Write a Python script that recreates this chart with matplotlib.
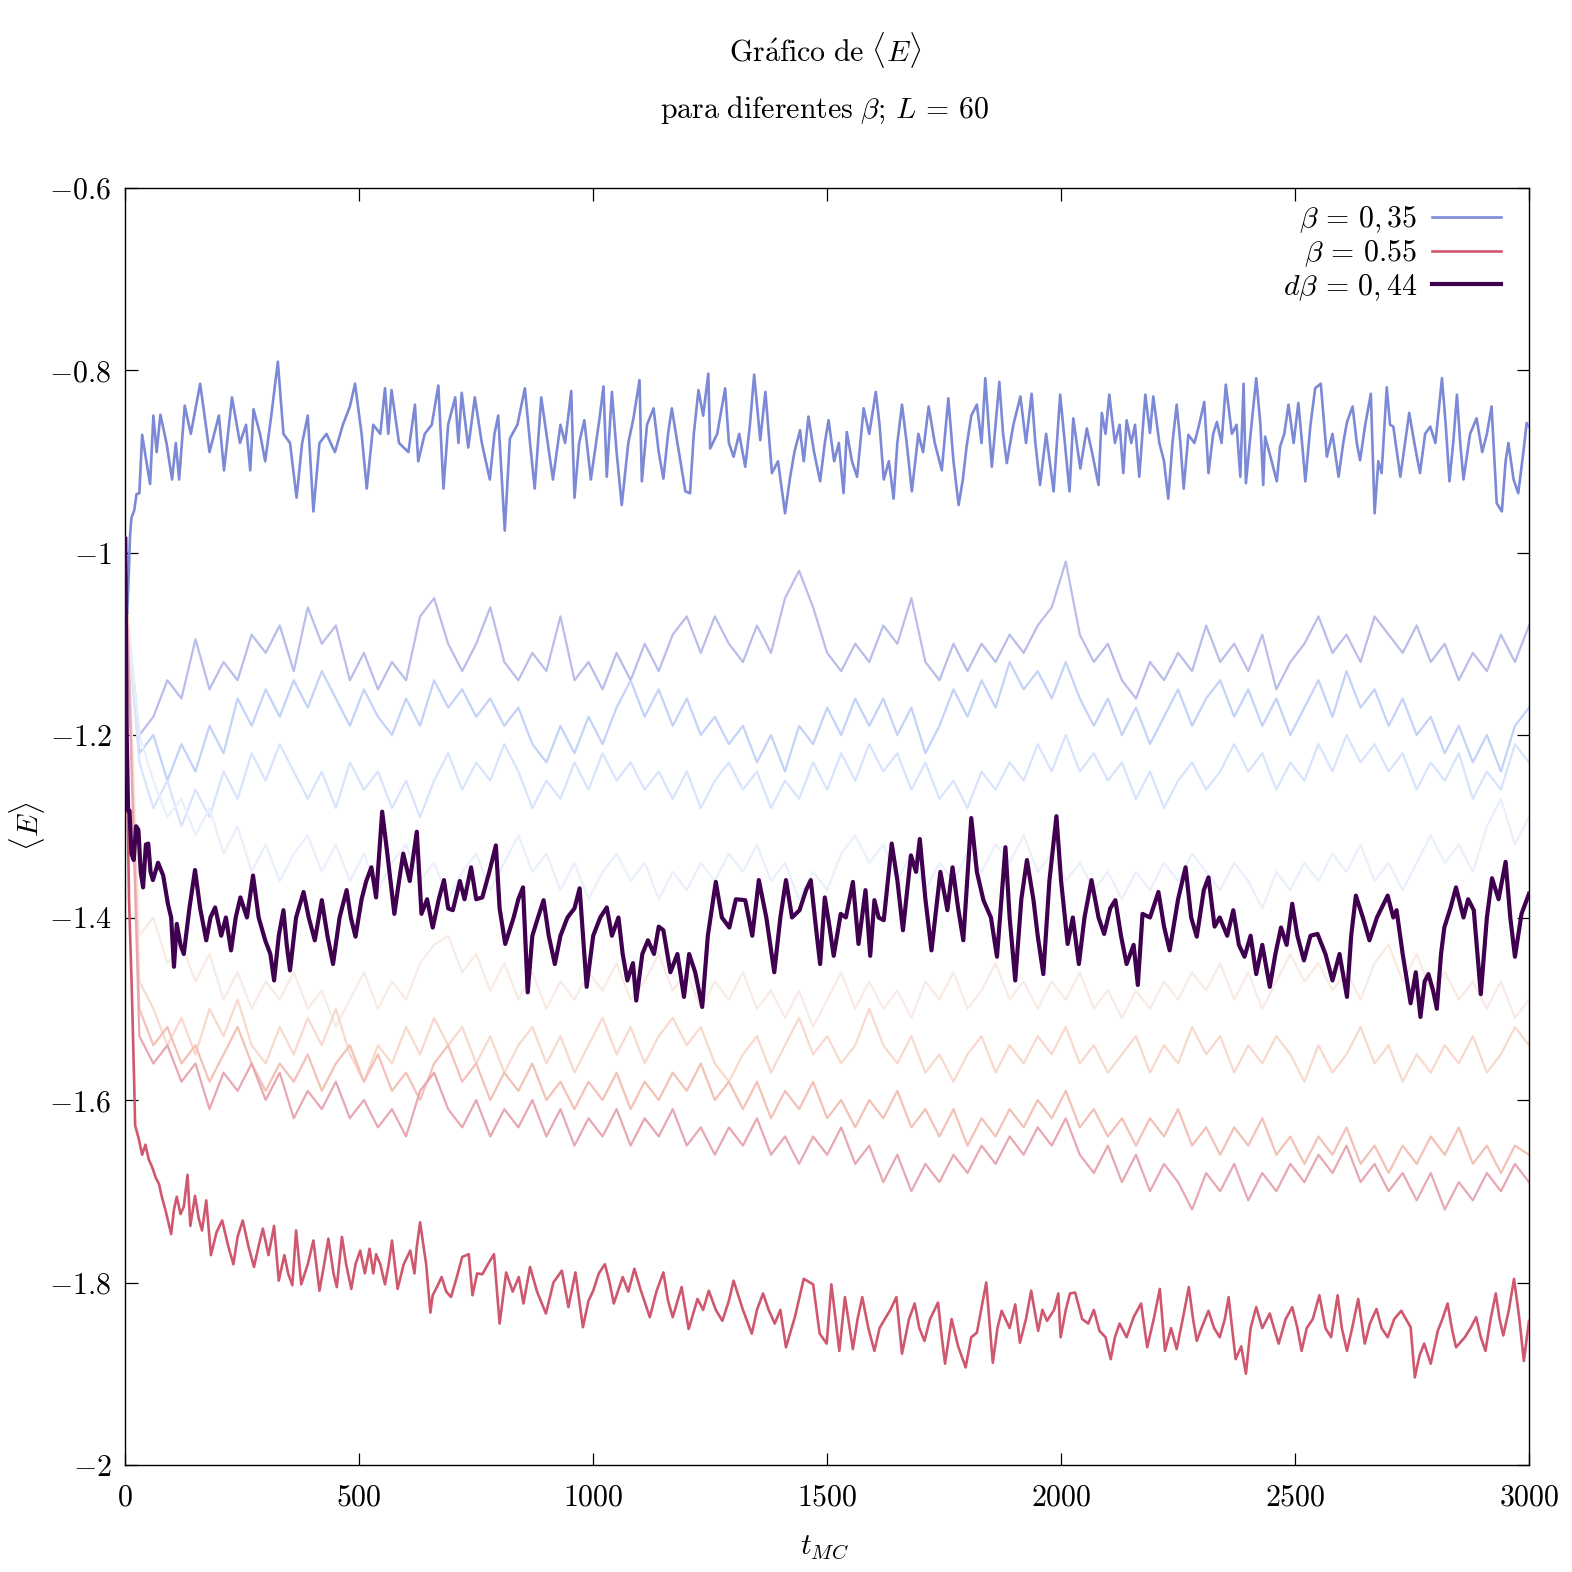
import numpy as np
import matplotlib
matplotlib.use("Agg")
import matplotlib.pyplot as plt

plt.rcParams['mathtext.fontset'] = 'cm'
plt.rcParams['font.family'] = ['DejaVu Serif']

# ---------------- data (energy x1000) ----------------
# main series: (t_MC, <E>*1000) pairs
blue_035 = [(0,-1060),(4,-1067),(7,-1030),(10,-983),(13,-962),(19,-954),(24,-936),(30,-935),(36,-871),(45,-900),(53,-925),(60,-850),(67,-890),(75,-849),(88,-880),(100,-920),(108,-880),(115,-920),(127,-839),(140,-870),(160,-815),(180,-890),(200,-850),(211,-910),(228,-830),(245,-880),(258,-860),(267,-910),(274,-843),(288,-870),(299,-900),(312,-850),(326,-791),(338,-870),(352,-880),(366,-940),(378,-880),(390,-850),(402,-955),(415,-880),(430,-870),(448,-890),(465,-860),(480,-840),(491,-815),(505,-870),(516,-930),(530,-860),(545,-870),(555,-820),(562,-870),(569,-822),(585,-880),(605,-890),(619,-838),(626,-900),(640,-870),(655,-860),(669,-817),(680,-930),(690,-860),(705,-830),(712,-880),(719,-825),(733,-885),(747,-830),(762,-880),(779,-920),(789,-870),(797,-850),(811,-976),(822,-875),(838,-860),(854,-820),(865,-880),(875,-930),(889,-830),(900,-870),(914,-920),(930,-860),(940,-880),(953,-823),(960,-940),(970,-880),(981,-855),(995,-920),(1013,-855),
            (1022,-818),(1029,-917),(1040,-824),(1050,-890),(1061,-948),(1075,-880),(1086,-853),(1099,-811),(1104,-922),(1115,-860),(1129,-842),(1140,-890),(1150,-919),(1160,-870),(1168,-842),(1180,-880),(1197,-933),(1207,-935),(1215,-870),(1225,-822),(1235,-850),(1246,-804),(1250,-886),(1265,-870),(1282,-820),(1290,-880),(1300,-895),(1312,-870),(1325,-906),(1335,-860),(1344,-805),(1357,-877),(1368,-824),(1382,-913),(1395,-900),(1410,-957),(1421,-917),(1430,-890),(1442,-866),(1450,-900),(1460,-851),(1472,-890),(1485,-922),(1495,-880),(1503,-855),(1515,-900),(1525,-880),(1535,-935),(1542,-868),(1553,-900),(1564,-917),(1578,-842),(1590,-870),(1604,-824),(1612,-860),(1621,-920),(1632,-900),(1642,-941),(1650,-880),(1660,-838),(1670,-880),(1681,-933),(1695,-870),(1705,-890),(1717,-840),(1730,-880),(1745,-910),(1759,-831),(1770,-900),(1781,-948),(1790,-920),(1798,-884),(1808,-850),(1820,-838),(1830,-880),(1838,-809),(1845,-860),(1852,-906),(1868,-813),(1876,-870),(1884,-902),(1898,-860),(1913,-829),(1925,-880),(1937,-826),(1945,-880),(1955,-926),(1968,-870),(1984,-933),(1998,-827),
            (2008,-880),(2018,-933),(2026,-853),(2041,-908),(2055,-864),(2066,-890),(2080,-926),(2087,-847),(2095,-870),(2103,-827),(2115,-880),(2125,-860),(2133,-913),(2140,-855),(2150,-880),(2158,-860),(2167,-917),(2180,-827),(2190,-869),(2197,-829),(2210,-880),(2220,-900),(2229,-941),(2238,-880),(2247,-838),(2255,-880),(2262,-930),(2272,-871),(2285,-880),(2295,-860),(2306,-835),(2315,-913),(2325,-870),(2333,-857),(2343,-880),(2352,-816),(2365,-870),(2375,-860),(2383,-917),(2390,-815),(2395,-924),(2405,-870),(2417,-809),(2426,-860),(2432,-926),(2436,-873),(2450,-900),(2461,-922),(2468,-884),(2477,-870),(2486,-838),(2497,-880),(2507,-836),(2515,-880),(2522,-922),(2533,-860),(2543,-820),(2555,-815),(2568,-895),(2580,-870),(2593,-917),(2603,-880),(2611,-857),(2623,-840),(2632,-880),(2639,-899),(2650,-860),(2662,-826),(2670,-957),(2678,-900),(2685,-913),(2696,-819),(2703,-860),(2710,-862),(2725,-917),(2735,-880),(2744,-847),(2755,-880),(2767,-913),(2778,-870),(2789,-862),(2800,-880),(2814,-809),(2822,-860),(2830,-922),(2838,-880),(2846,-827),(2853,-880),(2860,-920),(2874,-870),(2888,-853),(2900,-890),(2910,-870),(2920,-840),(2931,-946),(2942,-955),(2950,-900),(2956,-880),(2967,-920),(2977,-935),(2988,-890),(2995,-858),(3000,-862)]

red_055 = [(0,-1000),(4,-1250),(8,-1380),(14,-1481),(17,-1540),(19,-1582),(21,-1628),(28,-1641),(36,-1660),(43,-1649),(50,-1665),(57,-1673),(65,-1685),(72,-1692),(78,-1706),(86,-1721),(98,-1747),(104,-1720),(110,-1706),(118,-1725),(125,-1717),(133,-1682),(139,-1738),(149,-1705),(157,-1730),(164,-1743),(173,-1710),(183,-1770),(195,-1745),(207,-1732),(220,-1760),(231,-1780),(240,-1750),(251,-1732),(263,-1760),(275,-1783),(285,-1760),(294,-1741),(306,-1770),(318,-1738),(328,-1798),(340,-1770),(348,-1790),(357,-1803),(365,-1743),(376,-1802),(390,-1780),(402,-1754),(415,-1809),(425,-1780),(434,-1752),(445,-1790),(452,-1805),(463,-1750),(472,-1780),(483,-1807),(492,-1780),(502,-1765),(512,-1790),(522,-1763),(530,-1790),(536,-1769),(545,-1780),(555,-1802),(563,-1780),(570,-1754),(582,-1807),(595,-1780),(609,-1765),(618,-1790),(623,-1761),(630,-1734),(643,-1780),(652,-1833),(657,-1814),(666,-1805),(676,-1794),(686,-1810),(696,-1816),(708,-1795),(720,-1772),(734,-1769),(742,-1814),(752,-1790),(763,-1791),(775,-1780),(788,-1769),(800,-1845),(814,-1789),(828,-1810),(841,-1794),(851,-1823),(865,-1783),(880,-1810),(899,-1834),(915,-1800),(933,-1787),(947,-1827),(962,-1789),(978,-1849),(990,-1820),(1000,-1809),(1012,-1790),(1025,-1780),(1035,-1800),(1044,-1823),(1063,-1794),(1075,-1810),(1088,-1785),(1102,-1809),(1121,-1838),(1135,-1810),(1150,-1789),(1160,-1820),(1170,-1838),(1189,-1805),(1204,-1851),(1223,-1818),(1235,-1830),(1247,-1809),(1262,-1830),(1276,-1842),(1290,-1820),(1300,-1798),(1320,-1830),(1339,-1856),(1350,-1830),(1363,-1812),(1375,-1830),(1388,-1845),(1400,-1830),(1412,-1871),(1431,-1838),(1450,-1796),(1470,-1802),(1484,-1856),(1499,-1867),
           (1509,-1802),(1518,-1840),(1526,-1875),(1538,-1816),(1548,-1850),(1555,-1873),(1565,-1840),(1575,-1816),(1588,-1850),(1601,-1875),(1612,-1850),(1621,-1842),(1635,-1830),(1648,-1816),(1660,-1878),(1675,-1840),(1687,-1823),(1697,-1850),(1708,-1864),(1720,-1840),(1737,-1822),(1745,-1860),(1752,-1889),(1766,-1840),(1780,-1870),(1796,-1893),(1808,-1860),(1820,-1855),(1840,-1800),(1848,-1850),(1854,-1888),(1864,-1850),(1873,-1831),(1890,-1850),(1902,-1824),(1912,-1866),(1925,-1840),(1936,-1809),(1951,-1853),(1960,-1830),(1970,-1842),(1985,-1830),(1994,-1812),(1999,-1860),(2010,-1830),(2019,-1812),(2030,-1811),(2045,-1840),(2058,-1845),(2070,-1830),(2082,-1853),(2095,-1860),(2106,-1884),(2115,-1860),(2125,-1845),(2140,-1860),(2155,-1838),(2171,-1823),(2184,-1871),(2198,-1840),(2211,-1807),(2222,-1875),(2235,-1850),(2247,-1873),(2260,-1840),(2273,-1805),(2282,-1840),(2290,-1864),(2300,-1850),(2315,-1831),(2327,-1850),(2339,-1860),(2350,-1840),(2358,-1816),(2373,-1884),(2385,-1870),(2395,-1900),(2405,-1850),(2417,-1827),(2430,-1850),(2446,-1834),(2455,-1850),(2465,-1867),(2480,-1840),(2494,-1827),(2505,-1850),(2514,-1875),(2525,-1850),(2538,-1840),(2552,-1814),(2565,-1850),(2577,-1860),(2591,-1814),(2600,-1850),(2611,-1875),(2622,-1850),(2635,-1818),(2649,-1867),(2660,-1845),(2674,-1829),(2685,-1850),(2698,-1860),(2712,-1840),(2727,-1831),(2747,-1849),(2756,-1904),(2766,-1880),(2776,-1867),(2790,-1889),(2805,-1853),(2815,-1840),(2826,-1823),(2835,-1850),(2844,-1871),(2863,-1860),(2875,-1850),(2887,-1838),(2897,-1860),(2907,-1875),(2918,-1840),(2929,-1812),(2937,-1840),(2945,-1858),(2957,-1830),(2968,-1796),(2979,-1838),(2989,-1886),(3000,-1842)]

purple_044 = [(0,-985),(3,-1200),(6,-1283),(9,-1283),(13,-1330),(18,-1337),(23,-1300),(28,-1304),(33,-1350),(38,-1367),(44,-1320),(49,-1319),(54,-1350),(59,-1359),(70,-1340),(81,-1354),(91,-1385),(98,-1400),(104,-1454),(110,-1407),(118,-1430),(125,-1440),(137,-1390),(149,-1348),(160,-1390),(173,-1425),(182,-1400),(192,-1389),(205,-1420),(215,-1400),(226,-1436),(236,-1400),(246,-1378),(260,-1400),(273,-1354),(285,-1400),(299,-1425),(310,-1440),(318,-1469),(328,-1420),(338,-1392),(345,-1430),(352,-1458),(365,-1400),(381,-1372),(392,-1400),(405,-1425),(420,-1381),(432,-1420),(444,-1451),(458,-1400),(473,-1370),(482,-1400),(492,-1421),(505,-1380),(515,-1360),(526,-1345),(536,-1378),(549,-1284),(560,-1330),(575,-1396),(585,-1360),(594,-1330),(608,-1360),(623,-1306),(633,-1396),(645,-1380),(657,-1411),(670,-1380),(681,-1359),(690,-1390),(700,-1392),(715,-1360),(725,-1380),(739,-1345),(750,-1380),(763,-1378),(778,-1350),(792,-1321),(800,-1390),(812,-1429),(830,-1400),(840,-1380),(850,-1367),(860,-1482),(870,-1420),(882,-1400),(894,-1381),(905,-1420),(918,-1451),(930,-1420),(945,-1400),(960,-1390),(971,-1368),(986,-1476),(1000,-1420),(1015,-1400),(1029,-1389),(1040,-1420),(1054,-1400),(1063,-1440),(1073,-1469),(1085,-1450),(1092,-1491),(1105,-1440),(1117,-1425),(1130,-1440),(1140,-1410),(1150,-1414),(1165,-1460),(1180,-1440),(1194,-1487),(1205,-1440),(1218,-1460),(1233,-1498),(1245,-1420),(1262,-1361),(1275,-1400),(1291,-1411),(1305,-1380),(1325,-1381),(1340,-1420),(1354,-1359),(1370,-1400),(1387,-1460),(1400,-1400),(1412,-1359),(1425,-1400),(1441,-1392),(1455,-1370),(1465,-1359),(1478,-1420),(1485,-1451),
              (1495,-1378),(1505,-1410),(1514,-1442),(1529,-1396),(1540,-1400),(1555,-1361),(1567,-1429),(1582,-1370),(1592,-1442),(1601,-1381),(1610,-1400),(1621,-1403),(1638,-1319),(1650,-1359),(1662,-1414),(1679,-1332),(1690,-1350),(1698,-1314),(1710,-1380),(1723,-1436),(1742,-1350),(1757,-1392),(1768,-1345),(1780,-1390),(1791,-1425),(1808,-1291),(1820,-1350),(1834,-1381),(1850,-1400),(1863,-1443),(1881,-1323),(1890,-1400),(1902,-1469),(1915,-1380),(1927,-1337),(1941,-1381),(1950,-1420),(1962,-1462),(1975,-1360),(1990,-1289),(2000,-1360),(2014,-1429),(2025,-1400),(2038,-1451),(2050,-1400),(2065,-1359),(2080,-1400),(2092,-1418),(2105,-1390),(2116,-1381),(2128,-1420),(2140,-1451),(2155,-1430),(2164,-1474),(2174,-1396),(2190,-1400),(2208,-1372),(2220,-1410),(2232,-1436),(2250,-1380),(2266,-1345),(2278,-1400),(2290,-1421),(2305,-1370),(2315,-1356),(2328,-1410),(2339,-1400),(2355,-1420),(2368,-1392),(2380,-1430),(2392,-1443),(2405,-1420),(2417,-1462),(2430,-1430),(2446,-1476),(2458,-1440),(2470,-1411),(2482,-1430),(2494,-1385),(2505,-1420),(2519,-1447),(2533,-1420),(2548,-1418),(2565,-1440),(2580,-1469),(2595,-1440),(2611,-1487),(2620,-1420),(2630,-1376),(2645,-1400),(2659,-1425),(2675,-1400),(2698,-1376),(2710,-1400),(2717,-1392),(2730,-1440),(2747,-1494),(2758,-1460),(2768,-1509),(2777,-1470),(2785,-1462),(2795,-1480),(2803,-1500),(2812,-1440),(2819,-1411),(2832,-1390),(2844,-1367),(2860,-1400),(2870,-1380),(2882,-1392),(2897,-1484),(2910,-1400),(2921,-1357),(2935,-1380),(2950,-1339),(2960,-1400),(2970,-1443),(2984,-1396),(3000,-1374)]

# intermediate betas (faded), sampled every 30 MC steps from t=0 to t=3000
faded_b1 = [-1050,-1200,-1180,-1140,-1160,-1095,-1150,-1120,-1140,-1090,-1110,-1080,-1130,-1060,-1100,-1080,-1140,-1110,-1150,-1120,-1140,-1070,-1050,-1100,-1130,-1100,-1060,-1120,-1140,-1110,-1130,-1070,-1140,-1120,-1150,-1110,-1140,-1100,-1130,-1090,-1070,-1110,-1070,-1100,-1120,-1080,-1110,-1050,-1020,-1060,-1110,-1130,-1100,-1120,-1080,-1100,-1050,-1120,-1140,-1100,-1130,-1100,-1120,-1090,-1110,-1080,-1060,-1010,-1090,-1120,-1100,-1140,-1160,-1120,-1140,-1110,-1130,-1080,-1120,-1100,-1130,-1090,-1150,-1120,-1100,-1070,-1110,-1090,-1120,-1070,-1090,-1110,-1080,-1120,-1100,-1140,-1110,-1130,-1090,-1120,-1080]
faded_b2 = [-1050,-1220,-1200,-1250,-1210,-1240,-1190,-1220,-1160,-1190,-1150,-1180,-1140,-1170,-1130,-1160,-1190,-1150,-1180,-1200,-1160,-1190,-1140,-1170,-1150,-1180,-1160,-1190,-1170,-1210,-1230,-1190,-1220,-1180,-1210,-1170,-1140,-1180,-1150,-1190,-1160,-1200,-1180,-1210,-1190,-1230,-1200,-1240,-1190,-1210,-1170,-1200,-1160,-1190,-1160,-1200,-1170,-1220,-1190,-1150,-1180,-1140,-1170,-1120,-1150,-1130,-1160,-1120,-1160,-1190,-1160,-1200,-1170,-1210,-1180,-1150,-1190,-1160,-1140,-1180,-1150,-1190,-1160,-1200,-1170,-1140,-1180,-1130,-1170,-1150,-1190,-1160,-1200,-1180,-1220,-1190,-1230,-1200,-1240,-1190,-1170]
faded_b3 = [-1050,-1230,-1280,-1250,-1300,-1260,-1290,-1240,-1270,-1220,-1250,-1210,-1240,-1270,-1240,-1280,-1230,-1260,-1240,-1280,-1250,-1290,-1250,-1220,-1260,-1230,-1250,-1210,-1240,-1280,-1250,-1270,-1230,-1260,-1220,-1250,-1230,-1260,-1240,-1270,-1240,-1280,-1250,-1230,-1260,-1240,-1280,-1250,-1270,-1230,-1260,-1220,-1250,-1210,-1240,-1220,-1260,-1230,-1270,-1250,-1280,-1240,-1260,-1230,-1250,-1210,-1240,-1200,-1240,-1220,-1250,-1230,-1270,-1240,-1280,-1250,-1230,-1260,-1240,-1210,-1240,-1220,-1260,-1230,-1250,-1210,-1240,-1200,-1230,-1210,-1240,-1220,-1260,-1230,-1250,-1220,-1270,-1240,-1260,-1210,-1230]
faded_b4 = [-1050,-1200,-1250,-1290,-1270,-1310,-1280,-1330,-1300,-1350,-1320,-1360,-1330,-1310,-1350,-1320,-1360,-1330,-1370,-1340,-1320,-1360,-1340,-1380,-1350,-1330,-1370,-1340,-1310,-1350,-1330,-1370,-1340,-1380,-1350,-1330,-1360,-1340,-1380,-1350,-1370,-1340,-1360,-1330,-1350,-1320,-1360,-1340,-1380,-1350,-1370,-1330,-1310,-1340,-1320,-1360,-1330,-1370,-1340,-1360,-1330,-1350,-1320,-1340,-1310,-1350,-1330,-1360,-1340,-1370,-1350,-1380,-1350,-1370,-1340,-1360,-1330,-1350,-1370,-1340,-1360,-1390,-1350,-1370,-1340,-1360,-1330,-1350,-1320,-1360,-1340,-1370,-1340,-1310,-1340,-1320,-1350,-1300,-1270,-1320,-1290]
faded_r1 = [-1000,-1420,-1400,-1450,-1430,-1470,-1440,-1490,-1460,-1500,-1470,-1490,-1460,-1500,-1480,-1520,-1490,-1460,-1500,-1470,-1490,-1450,-1430,-1420,-1460,-1440,-1480,-1450,-1490,-1460,-1500,-1470,-1490,-1460,-1480,-1450,-1490,-1470,-1440,-1480,-1460,-1500,-1470,-1490,-1460,-1500,-1480,-1510,-1480,-1520,-1490,-1460,-1500,-1470,-1500,-1480,-1510,-1470,-1490,-1460,-1500,-1480,-1450,-1490,-1470,-1500,-1470,-1490,-1460,-1500,-1480,-1510,-1480,-1500,-1470,-1490,-1460,-1480,-1450,-1490,-1460,-1500,-1470,-1440,-1470,-1450,-1480,-1460,-1490,-1450,-1430,-1470,-1440,-1480,-1460,-1490,-1470,-1500,-1470,-1510,-1490]
faded_r2 = [-1000,-1470,-1500,-1540,-1510,-1550,-1500,-1530,-1490,-1540,-1560,-1520,-1550,-1510,-1540,-1500,-1550,-1580,-1540,-1560,-1520,-1550,-1510,-1540,-1520,-1560,-1530,-1570,-1540,-1520,-1560,-1530,-1570,-1540,-1510,-1550,-1520,-1560,-1530,-1510,-1540,-1520,-1560,-1580,-1550,-1530,-1570,-1540,-1510,-1550,-1530,-1560,-1540,-1500,-1540,-1560,-1530,-1570,-1550,-1580,-1550,-1530,-1570,-1540,-1560,-1530,-1550,-1520,-1560,-1540,-1570,-1550,-1530,-1570,-1540,-1560,-1520,-1550,-1530,-1570,-1540,-1560,-1530,-1550,-1580,-1540,-1570,-1550,-1520,-1560,-1540,-1580,-1550,-1570,-1540,-1560,-1530,-1570,-1550,-1520,-1540]
faded_r3 = [-1000,-1500,-1540,-1520,-1560,-1540,-1580,-1550,-1520,-1560,-1590,-1560,-1580,-1550,-1590,-1560,-1540,-1580,-1550,-1590,-1570,-1600,-1560,-1540,-1580,-1560,-1600,-1570,-1590,-1560,-1600,-1580,-1610,-1580,-1600,-1570,-1610,-1580,-1600,-1570,-1590,-1560,-1600,-1580,-1610,-1580,-1620,-1590,-1610,-1580,-1620,-1600,-1630,-1600,-1620,-1590,-1630,-1610,-1640,-1610,-1650,-1620,-1640,-1610,-1630,-1600,-1620,-1590,-1630,-1610,-1640,-1620,-1650,-1620,-1640,-1610,-1650,-1630,-1660,-1630,-1650,-1620,-1660,-1640,-1670,-1640,-1660,-1630,-1670,-1650,-1680,-1650,-1670,-1640,-1660,-1630,-1670,-1650,-1680,-1650,-1660]
faded_r4 = [-1000,-1530,-1560,-1540,-1580,-1560,-1610,-1570,-1590,-1560,-1600,-1570,-1620,-1590,-1610,-1580,-1620,-1600,-1630,-1610,-1640,-1590,-1570,-1610,-1630,-1600,-1640,-1610,-1630,-1600,-1640,-1610,-1650,-1620,-1640,-1610,-1650,-1620,-1640,-1610,-1650,-1630,-1660,-1630,-1650,-1620,-1660,-1640,-1670,-1640,-1660,-1630,-1670,-1650,-1690,-1660,-1700,-1670,-1690,-1660,-1680,-1650,-1670,-1640,-1660,-1630,-1650,-1620,-1660,-1680,-1650,-1690,-1660,-1700,-1670,-1690,-1720,-1680,-1700,-1670,-1710,-1680,-1700,-1670,-1690,-1660,-1680,-1650,-1690,-1670,-1700,-1680,-1710,-1680,-1720,-1690,-1710,-1680,-1700,-1670,-1690]

faded_series = [faded_b1, faded_b2, faded_b3, faded_b4, faded_r1, faded_r2, faded_r3, faded_r4]
faded_colors = ['#b9bde9', '#c3d3f7', '#d8e4fd', '#eaf0fb', '#f8ebe4', '#f9d9cd', '#f3c2b6', '#e8a8b2']

labels = [r'$\beta\,=\,0,35$', r'$\beta\,=\,0.55$', r'$d\beta\,=\,0,44$']
xticks = [0, 500, 1000, 1500, 2000, 2500, 3000]
xticklabels = ['$0$', '$500$', '$1000$', '$1500$', '$2000$', '$2500$', '$3000$']
yticks = [-2.0, -1.8, -1.6, -1.4, -1.2, -1.0, -0.8, -0.6]
yticklabels = ['$-2$', '$-1.8$', '$-1.6$', '$-1.4$', '$-1.2$', '$-1$', '$-0.8$', '$-0.6$']

FS = 21.5

# ---------------- figure ----------------
fig = plt.figure(figsize=(15.72, 15.72), dpi=100)
ax = fig.add_axes([125.3/1572, 1 - 1465/1572, (1529 - 125.3)/1572, (1465 - 187.5)/1572])

for vals, col in zip(faded_series, faded_colors):
    t = np.linspace(0, 3000, len(vals))
    ax.plot(t, np.array(vals) / 1000.0, color=col, lw=1.6, zorder=2)

def split(pairs):
    a = np.array(pairs, dtype=float)
    return a[:, 0], a[:, 1] / 1000.0

tb, eb = split(blue_035)
tr, er = split(red_055)
tp, ep = split(purple_044)
l1, = ax.plot(tb, eb, color='#7b89d6', lw=1.9, zorder=3, label=labels[0])
l2, = ax.plot(tr, er, color='#cf586e', lw=1.9, zorder=3, label=labels[1])
l3, = ax.plot(tp, ep, color='#400050', lw=3.0, zorder=4, label=labels[2])

ax.set_xlim(0, 3000)
ax.set_ylim(-2.0, -0.6)
ax.set_xticks(xticks)
ax.set_xticklabels(xticklabels)
ax.set_yticks(yticks)
ax.set_yticklabels(yticklabels)
ax.tick_params(direction='in', length=9, width=0.9, labelsize=FS, top=True, right=True)
ax.tick_params(axis='x', pad=13)
ax.tick_params(axis='y', pad=10)
for s in ax.spines.values():
    s.set_linewidth(1.0)

leg = ax.legend(handles=[l1, l2, l3], loc='upper right', bbox_to_anchor=(1 - 28/1404, 1 - 16/1277),
                frameon=False, markerfirst=False, fontsize=FS, handlelength=2.3,
                handletextpad=0.5, labelspacing=0.08, borderpad=0, borderaxespad=0)

fig.text(825/1572, 1 - 50/1572, r'$\mathrm{Gr\acute{a}fico\ de}\ \langle E\rangle$', ha='center', va='center', fontsize=FS)
fig.text(825/1572, 1 - 110/1572, r'$\mathrm{para\ diferentes}\ \beta;\,L\,=\,60$', ha='center', va='center', fontsize=FS)
fig.text(27/1572, 1 - 826/1572, r'$\langle E\rangle$', ha='center', va='center', fontsize=FS, rotation=90)
fig.text(824/1572, 1 - 1547/1572, r'$t_{MC}$', ha='center', va='center', fontsize=FS)

fig.savefig('out.png', dpi=100)
